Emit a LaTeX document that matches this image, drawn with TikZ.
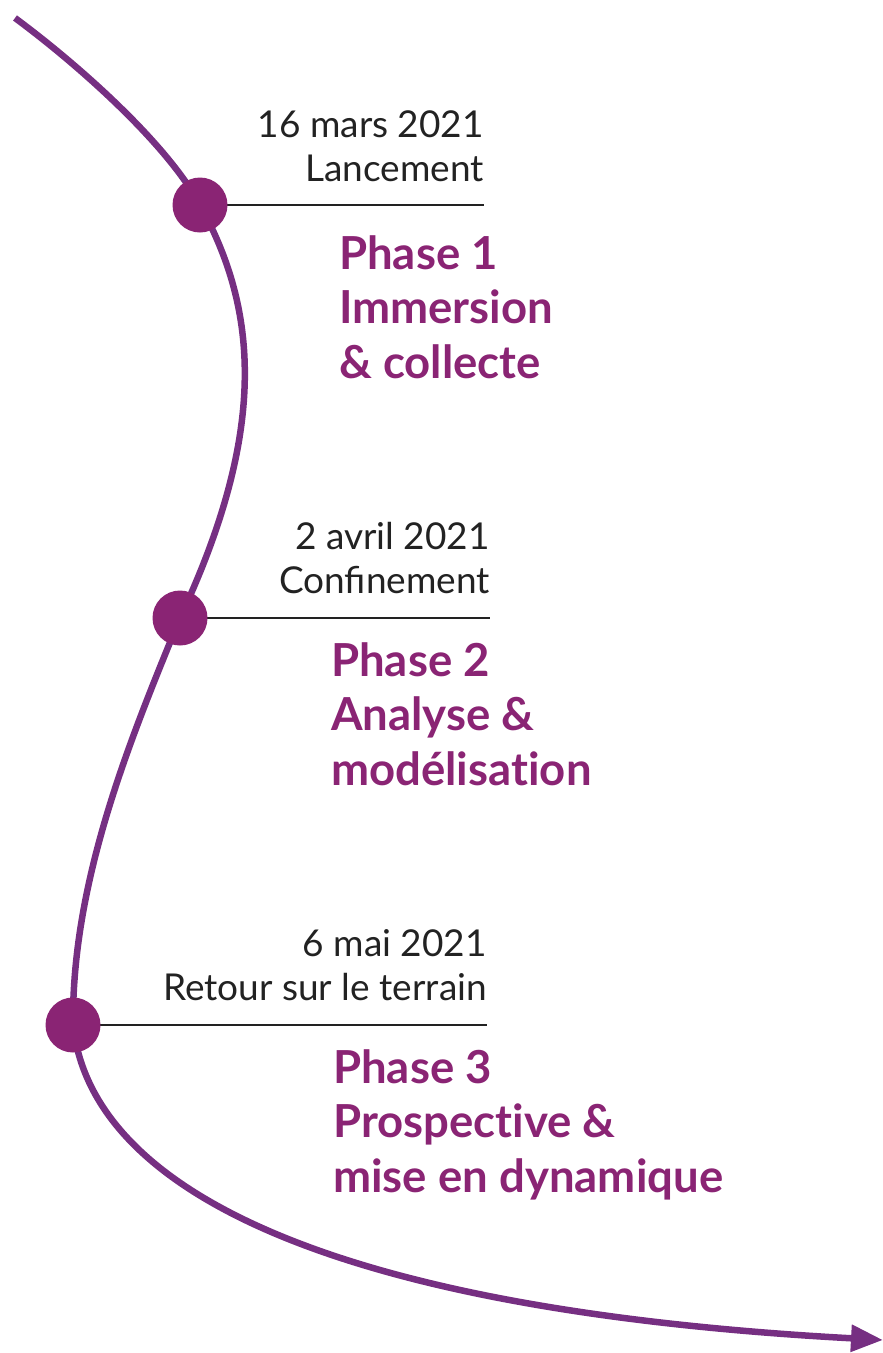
\documentclass[tikz,border=0pt]{standalone}
\usepackage{fontspec}
\setmainfont{Lato}
\usetikzlibrary{positioning}
\usetikzlibrary{arrows.meta}
\usetikzlibrary{calc}

\definecolor{lignecol}{HTML}{762F82}
\definecolor{pointcol}{HTML}{8A2474}
\definecolor{textcol}{HTML}{222222}

\tikzset{
  pointstyle/.style={circle, fill=pointcol, inner sep=0pt, minimum size=55pt},
  datestyle/.style={anchor=base east, align=right, inner sep=0pt, text=textcol,
    font=\fontsize{37}{44}\selectfont},
  phasestyle/.style={anchor=base west, align=left, inner sep=0pt, text=pointcol,
    font=\fontsize{45.5}{54.5}\selectfont\bfseries},
}

\begin{document}
\begin{tikzpicture}[x=1pt, y=-1pt]

  \useasboundingbox (0,0) rectangle (883,1353);

  % la courbe
  \draw[lignecol, line width=6.5pt, -{Triangle[length=32pt, width=26pt]}]
    (15,18) .. controls (80,66) and (168,145) .. (200,205)
            .. controls (258,310) and (268,430) .. (180,618)
            .. controls (130,740) and (72,880) .. (73,1024)
            .. controls (90,1190) and (330,1310) .. (883,1340);

  % les points et les traits
  \foreach \name/\x/\y/\xe in {1/200/205/484, 2/180/618/490, 3/73/1025/487} {
    \coordinate (fin\name) at (\xe,\y);
    \draw[textcol, line width=2.4pt] (\x,\y) -- (fin\name);
    \node[pointstyle] (point\name) at (\x,\y) {};
  }

  % les dates (ancre sur la derniere ligne)
  \node[datestyle] (date1) at ($(fin1)+(0,-24)$) {16 mars 2021\\Lancement};
  \node[datestyle] (date2) at ($(fin2)+(0,-25)$) {2 avril 2021\\Confinement};
  \node[datestyle] (date3) at ($(fin3)+(0,-25)$) {6 mai 2021\\Retour sur le terrain};

  % les phases
  \node[phasestyle] (phase1) at (339,378) {Phase 1\\Immersion\\\& collecte};
  \node[phasestyle] (phase2) at (331,785) {Phase 2\\Analyse \&\\modélisat\kern0pt ion};
  \node[phasestyle] (phase3) at (333,1192) {Phase 3\\Prospect\kern0pt ive \&\\mise en dynamique};

\end{tikzpicture}
\end{document}
